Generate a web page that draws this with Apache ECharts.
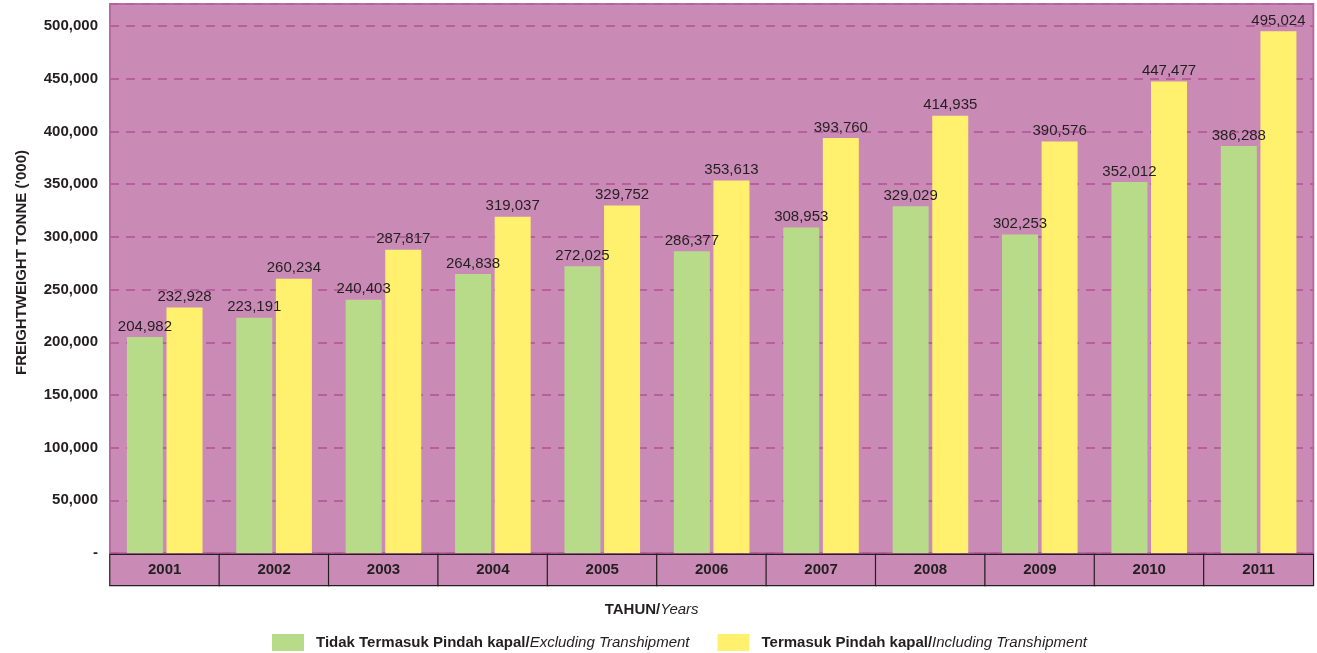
<!DOCTYPE html>
<html><head><meta charset="utf-8">
<script src="https://cdn.jsdelivr.net/npm/echarts@6/dist/echarts.min.js"></script>
<style>html,body{margin:0;padding:0;background:#fff}#c{width:1317px;height:653px}</style>
</head><body><div id="c"></div>
<script>
const years = ['2001','2002','2003','2004','2005','2006','2007','2008','2009','2010','2011'];
const excluding = [204982,223191,240403,264838,272025,286377,308953,329029,302253,352012,386288];
const including = [232928,260234,287817,319037,329752,353613,393760,414935,390576,447477,495024];
const yTicks = [0,50000,100000,150000,200000,250000,300000,350000,400000,450000,500000];

const fmt = v => v.toString().replace(/\B(?=(\d{3})+(?!\d))/g, ',');
const font = 'Liberation Sans, Arial, sans-serif';

const chart = echarts.init(document.getElementById('c'));
chart.setOption({
  animation: false,
  textStyle: {fontFamily: font},
  grid: {left: 110, right: 0, top: 4, bottom: 100, show: true,
         backgroundColor: '#C98BB6', borderColor: '#B86AA3', borderWidth: 2},
  legend: {
    bottom: 2, left: 272, padding: 0, itemWidth: 32, itemHeight: 17, itemGap: 28,
    icon: 'rect',
    formatter: function(name){
      const p = name.split('/');
      return '{b|' + p[0] + '/}{i|' + p[1] + '}';
    },
    textStyle: {padding: [0, 0, 0, 7], rich: {
      b: {fontFamily: font, fontWeight: 'bold', fontSize: 15, color: '#231F20'},
      i: {fontFamily: font, fontStyle: 'italic', fontSize: 15, color: '#231F20'}
    }}
  },
  xAxis: {
    type: 'category', data: years,
    axisLine: {show: false}, axisTick: {show: false},
    name: '{b|TAHUN/}{i|Years}', nameLocation: 'middle', nameGap: 49,
    nameTextStyle: {padding: [0, 120, 0, 0], rich: {
      b: {fontFamily: font, fontWeight: 'bold', fontSize: 15, color: '#231F20'},
      i: {fontFamily: font, fontStyle: 'italic', fontSize: 15, color: '#231F20'}
    }},
    axisLabel: {
      interval: 0, margin: 2, fontFamily: font, fontWeight: 'bold', fontSize: 15,
      color: '#231F20', width: 108.7, height: 30, lineHeight: 30, align: 'center',
      backgroundColor: '#C98BB6', borderColor: '#231F20', borderWidth: 1.2
    }
  },
  yAxis: {
    type: 'value', min: 0, max: 521000, interval: 50000,
    name: "FREIGHTWEIGHT TONNE ('000)", nameLocation: 'middle', nameGap: 81,
    nameTextStyle: {fontFamily: font, fontWeight: 'bold', fontSize: 15, color: '#231F20',
                    padding: [0, 0, 0, 32]},
    axisLine: {show: false}, axisTick: {show: false},
    axisLabel: {
      margin: 12, fontFamily: font, fontWeight: 'bold', fontSize: 15, color: '#231F20',
      formatter: v => (yTicks.indexOf(v) < 0 ? '' : (v === 0 ? '-' : fmt(v)))
    },
    splitLine: {show: true, lineStyle: {color: '#B8609E', type: [9, 7], width: 2}}
  },
  series: [
    {name: 'Tidak Termasuk Pindah kapal/Excluding Transhipment', type: 'bar',
     data: excluding, barWidth: 36, barGap: '10%',
     itemStyle: {color: '#B8DB8A'},
     label: {show: true, position: 'top', distance: 3, fontFamily: font, fontSize: 15,
             color: '#231F20', formatter: p => fmt(p.value)}},
    {name: 'Termasuk Pindah kapal/Including Transhipment', type: 'bar',
     data: including, barWidth: 36, barGap: '10%',
     itemStyle: {color: '#FFF06E'},
     label: {show: true, position: 'top', distance: 3, fontFamily: font, fontSize: 15,
             color: '#231F20', formatter: p => fmt(p.value)}}
  ]
});
</script></body></html>
